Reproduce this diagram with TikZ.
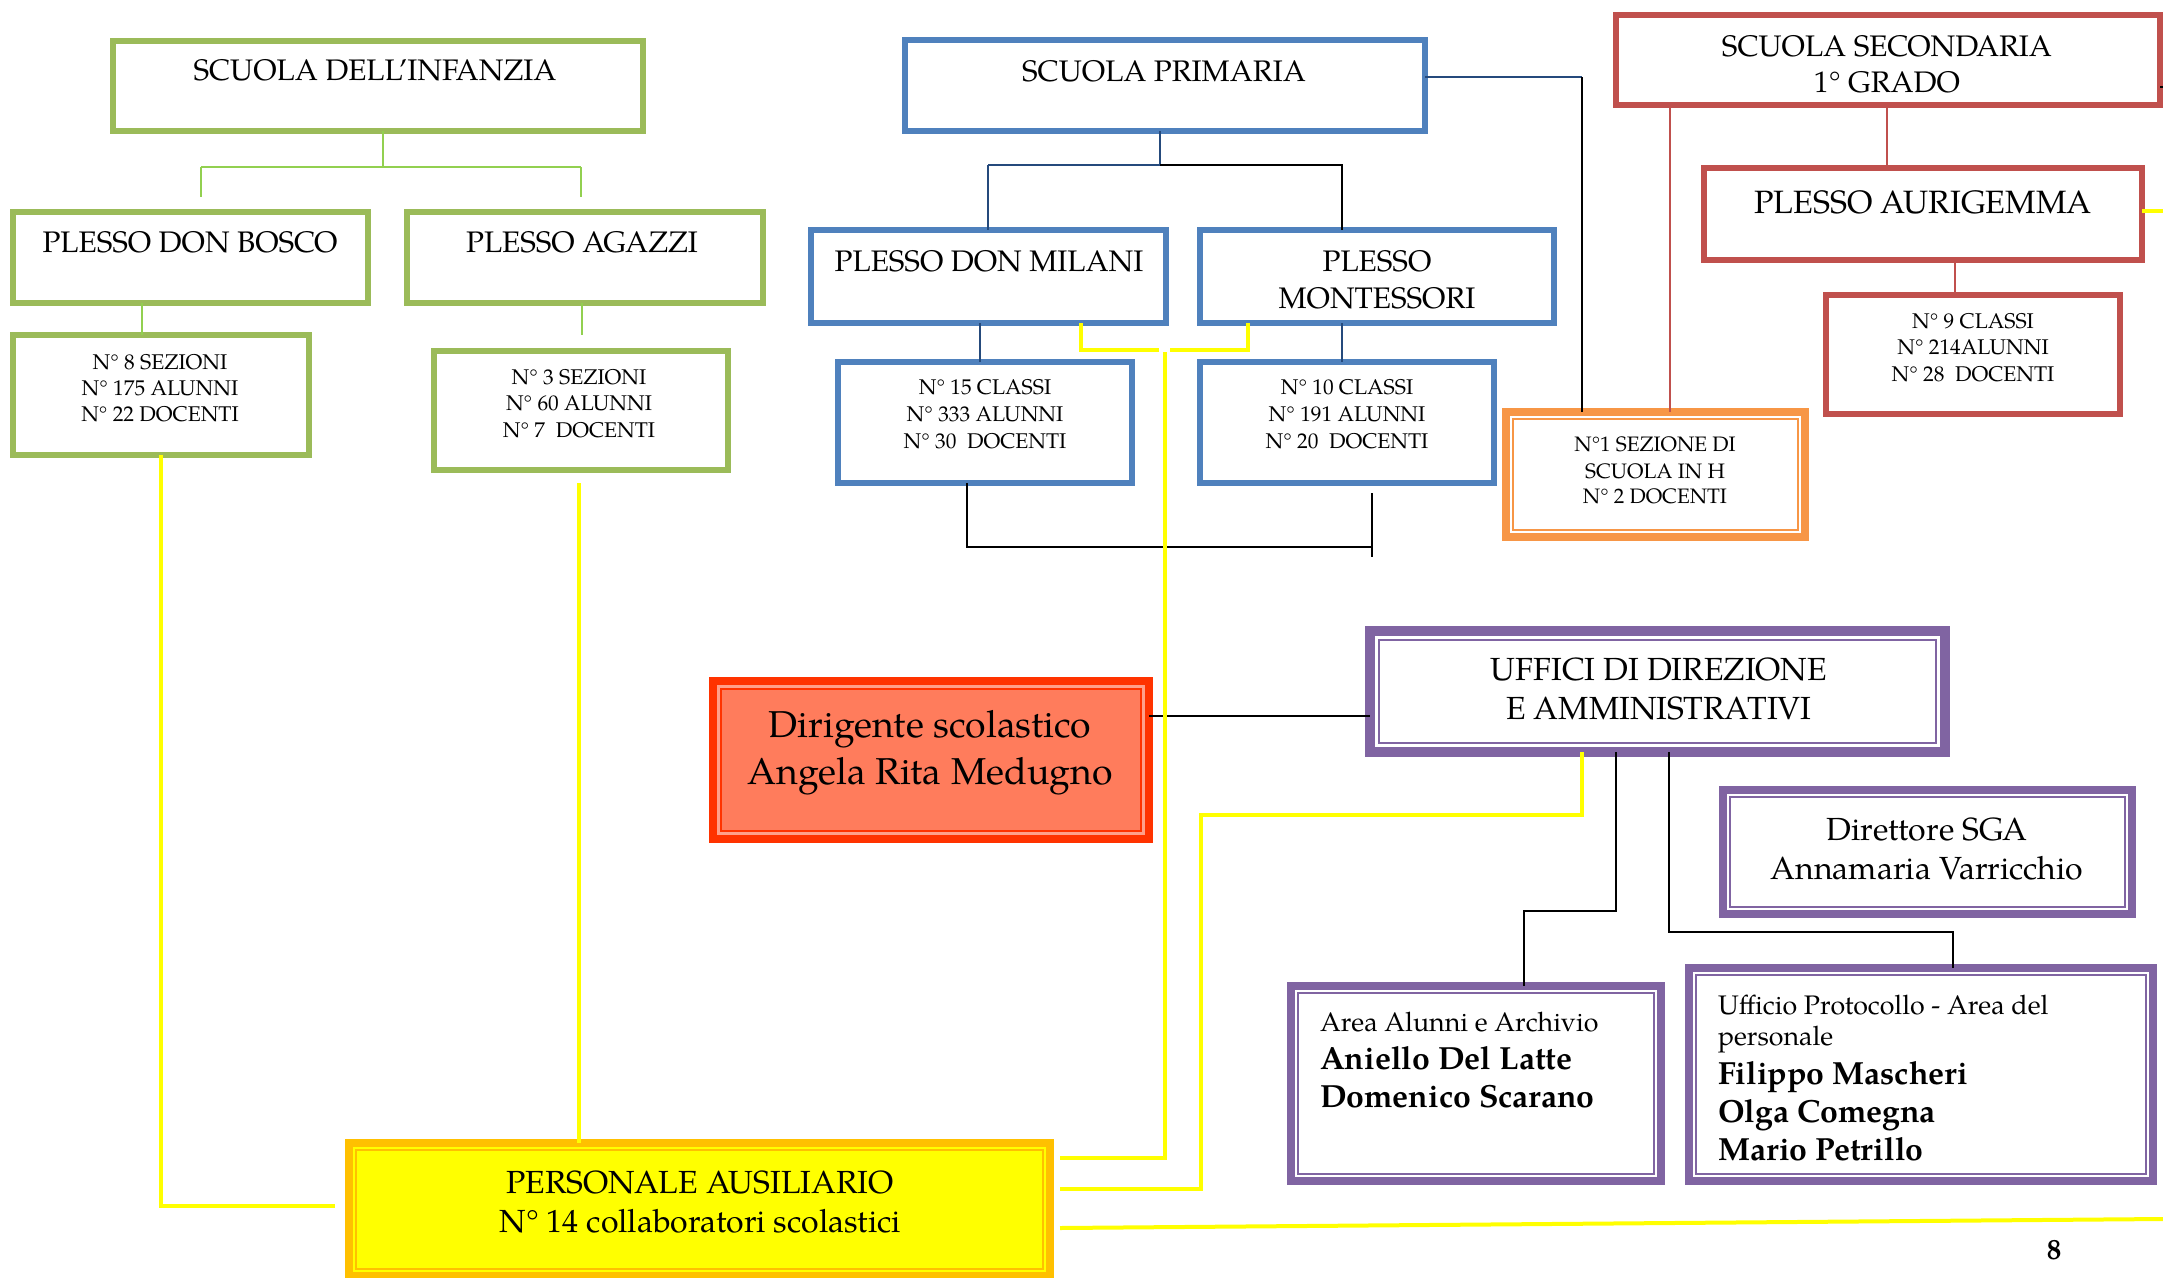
\documentclass[tikz,border=0pt]{standalone}
\usepackage{fontspec}
\setmainfont{TeX Gyre Pagella}
\usetikzlibrary{calc}
\definecolor{cgreen}{HTML}{9BBB59}
\definecolor{cgreenline}{HTML}{92D050}
\definecolor{cblue}{HTML}{4F81BD}
\definecolor{cbluedark}{HTML}{254A7C}
\definecolor{cred}{HTML}{C0504D}
\definecolor{corange}{HTML}{F79646}
\definecolor{cpurple}{HTML}{8064A2}
\definecolor{cdirred}{HTML}{FF3300}
\definecolor{csalmon}{HTML}{FF7C5C}
\definecolor{cpink}{HTML}{FFA08A}
\definecolor{cgold}{HTML}{FFC000}
\definecolor{cyellow}{HTML}{FFFF00}
\newcommand\innerrect[3]{\draw[#1] ($(#2.north west)+(#3,#3)$) rectangle ($(#2.south east)+(-#3,-#3)$);}
\tikzset{
  bx/.style={draw, rectangle, inner sep=0pt, outer sep=0pt, fill=white},
  gbox/.style={bx, draw=cgreen, line width=6pt},
  bbox/.style={bx, draw=cblue, line width=6pt},
  rbox/.style={bx, draw=cred, line width=6pt},
  obox/.style={bx, draw=corange, line width=8pt},
  pbox/.style={bx, draw=cpurple, line width=8pt},
  dbox/.style={bx, draw=cdirred, line width=8pt, fill=csalmon},
  ybox/.style={bx, draw=cgold, line width=8pt, fill=cyellow},
  txt/.style={inner sep=0pt, outer sep=0pt, anchor=base},
  ttl/.style={txt, font=\fontsize{29.7}{34}\selectfont},
  ttlb/.style={txt, font=\fontsize{32.3}{38}\selectfont},
  stat/.style={txt, font=\fontsize{21.3}{26}\selectfont},
  hstat/.style={txt, font=\fontsize{20.9}{26}\selectfont},
  big/.style={txt, font=\fontsize{37.4}{44}\selectfont},
  mid/.style={txt, font=\fontsize{32}{38}\selectfont},
  sml/.style={txt, anchor=base west, font=\fontsize{26.8}{32}\selectfont},
  bld/.style={txt, anchor=base west, font=\fontsize{32}{38}\selectfont\bfseries},
  gline/.style={draw=cgreenline, line width=2.5pt},
  bline/.style={draw=cbluedark, line width=2pt},
  kline/.style={draw=black, line width=2pt},
  rline/.style={draw=cred, line width=2pt},
  yline/.style={draw=cyellow, line width=4pt},
}
\begin{document}
\begin{tikzpicture}[x=1pt, y=-1pt]
\useasboundingbox (0,0) rectangle (2163,1277);
\fill[white] (0,0) rectangle (2163,1277);

% ---------- coordinates ----------
\coordinate (g1) at (383,167);
\coordinate (g2) at (201,167);
\coordinate (g3) at (581,167);
\coordinate (g4) at (201,197);
\coordinate (g5) at (581,197);
\coordinate (g6) at (582,335);
\coordinate (g7) at (142,320);
\coordinate (b1) at (1160,165);
\coordinate (b2) at (988,165);
\coordinate (b3) at (1342,165);
\coordinate (b4) at (980,362);
\coordinate (b5) at (1342,362);
\coordinate (k1) at (1582,77);
\coordinate (k2) at (967,547);
\coordinate (k3) at (1373,547);
\coordinate (k4) at (1372,493);
\coordinate (k5) at (1372,557);
\coordinate (k6) at (1616,911);
\coordinate (k7) at (1524,911);
\coordinate (k8) at (1669,932);
\coordinate (k9) at (1953,932);
\coordinate (k10) at (2163,87);
\coordinate (k11) at (1260,716);
\coordinate (r1) at (1887,140);
\coordinate (r2) at (1670,300);
\coordinate (r3) at (1955,280);
\coordinate (y1) at (161,1206);
\coordinate (y2) at (335,1206);
\coordinate (y3) at (579,483);
\coordinate (y4) at (1081,350);
\coordinate (y5) at (1159,350);
\coordinate (y6) at (1248,350);
\coordinate (y7) at (1170,350);
\coordinate (y8) at (1165,352);
\coordinate (y9) at (1165,1158);
\coordinate (y10) at (1060,1158);
\coordinate (y11) at (1582,815);
\coordinate (y12) at (1201,815);
\coordinate (y13) at (1201,1189);
\coordinate (y14) at (1060,1189);
\coordinate (y15) at (1060,1228);
\coordinate (y16) at (2163,1219);
\coordinate (y17) at (2163,211);

% ---------- boxes ----------
% green
\node[gbox, minimum width=530pt, minimum height=90pt] (inf) at (378,86) {};
\node[gbox, minimum width=355pt, minimum height=91pt] (db) at (190.5,257.5) {};
\node[gbox, minimum width=356pt, minimum height=91pt] (ag) at (585,257.5) {};
\node[gbox, minimum width=296pt, minimum height=120pt] (db8) at (161,395) {};
\node[gbox, minimum width=294pt, minimum height=119pt] (ag3) at (581,410.5) {};
% blue
\node[bbox, minimum width=520pt, minimum height=91pt] (prim) at (1165,85.5) {};
\node[bbox, minimum width=355pt, minimum height=93pt] (dm) at (988.5,276.5) {};
\node[bbox, minimum width=354pt, minimum height=93pt] (mont) at (1377,276.5) {};
\node[bbox, minimum width=294pt, minimum height=121pt] (c15) at (985,422.5) {};
\node[bbox, minimum width=294pt, minimum height=121pt] (c10) at (1347,422.5) {};
% red
\node[rbox, minimum width=544pt, minimum height=90pt] (sec) at (1888,60) {};
\node[rbox, minimum width=438pt, minimum height=92pt] (aur) at (1923,214) {};
\node[rbox, minimum width=294pt, minimum height=119pt] (c9) at (1973,354.5) {};
% orange
\node[obox, minimum width=299pt, minimum height=125pt] (hsez) at (1655.5,474.5) {};
\innerrect{draw=corange, line width=2pt}{hsez}{7}
% dirigente
\node[dbox, minimum width=436pt, minimum height=158pt] (dir) at (931,760) {};
\innerrect{draw=cpink, line width=3pt}{dir}{5.5}
\innerrect{draw=cdirred, line width=2pt}{dir}{8}
% purple
\node[pbox, line width=10pt, minimum width=575pt, minimum height=121pt] (uff) at (1657.5,691.5) {};
\innerrect{draw=cpurple, line width=2pt}{uff}{9}
\node[pbox, minimum width=409pt, minimum height=124pt] (dsga) at (1927.5,852) {};
\innerrect{draw=cpurple, line width=2pt}{dsga}{7}
\node[pbox, minimum width=370pt, minimum height=195pt] (area) at (1476,1083.5) {};
\innerrect{draw=cpurple, line width=2pt}{area}{7}
\node[pbox, minimum width=464pt, minimum height=213pt] (prot) at (1921,1074.5) {};
\innerrect{draw=cpurple, line width=2pt}{prot}{7}
% personale
\node[ybox, minimum width=701pt, minimum height=133pt] (pers) at (699.5,1209.5) {};
\innerrect{draw=cgold, line width=2pt}{pers}{7}

% ---------- connectors ----------
\draw[gline] (inf.south -| g1) -- (g1);
\draw[gline] (g2) -- (g3);
\draw[gline] (g2) -- (g4);
\draw[gline] (g3) -- (g5);
\draw[gline] (db.south -| g7) -- (db8.north -| g7);
\draw[gline] (ag.south -| g6) -- (g6);

\draw[bline] (prim.south -| b1) -- (b1);
\draw[bline] (b2) -- (b1);
\draw[bline] (b2) -- (dm.north -| b2);
\draw[kline] (b1) -- (b3) -- (mont.north -| b3);
\draw[bline] (dm.south -| b4) -- (b4);
\draw[bline] (mont.south -| b5) -- (b5);
\draw[bline] (prim.east |- k1) -- (k1);
\draw[kline] (k1) -- (hsez.north -| k1);
\draw[kline] (c15.south -| k2) -- (k2) -- (k3);
\draw[kline] (k4) -- (k5);

\draw[rline] (sec.south -| r1) -- (aur.north -| r1);
\draw[rline] (sec.south -| r2) -- (hsez.north -| r2);
\draw[rline] (aur.south -| r3) -- (c9.north -| r3);
\draw[kline] (sec.east |- k10) -- (k10);

\draw[kline] (dir.east |- k11) -- (uff.west |- k11);
\draw[kline] (uff.south -| k6) -- (k6) -- (k7) -- (area.north -| k7);
\draw[kline] (uff.south -| k8) -- (k8) -- (k9) -- (prot.north -| k9);

\draw[yline] (db8.south -| y1) -- (y1) -- (y2);
\draw[yline] (y3) -- (pers.north -| y3);
\draw[yline] (dm.south -| y4) -- (y4) -- (y5);
\draw[yline] (mont.south -| y6) -- (y6) -- (y7);
\draw[yline] (y8) -- (y9) -- (y10);
\draw[yline] (uff.south -| y11) -- (y11) -- (y12) -- (y13) -- (y14);
\draw[yline] (y15) -- (y16);
\draw[yline] (aur.east |- y17) -- (y17);

% ---------- texts ----------
\node[ttl] (t-inf) at (375,80) {SCUOLA DELL’INFANZIA};
\node[ttl] (t-db) at (190,252) {PLESSO DON BOSCO};
\node[ttl] (t-ag) at (582,252) {PLESSO AGAZZI};
\node[stat] (t-db8a) at (160,369) {N° 8 SEZIONI};
\node[stat] (t-db8b) at (160,395) {N° 175 ALUNNI};
\node[stat] (t-db8c) at (160,421) {N° 22 DOCENTI};
\node[stat] (t-ag3a) at (579,384) {N° 3 SEZIONI};
\node[stat] (t-ag3b) at (579,410) {N° 60 ALUNNI};
\node[stat] (t-ag3c) at (579,437) {N° 7\ \ DOCENTI};

\node[ttl] (t-prim) at (1164,81) {SCUOLA PRIMARIA};
\node[ttl] (t-dm) at (989,271) {PLESSO DON MILANI};
\node[ttl] (t-mont1) at (1377,271) {PLESSO};
\node[ttl] (t-mont2) at (1377,308) {MONTESSORI};
\node[stat] (t-c15a) at (985,394) {N° 15 CLASSI};
\node[stat] (t-c15b) at (985,421) {N° 333 ALUNNI};
\node[stat] (t-c15c) at (985,448) {N° 30\ \ DOCENTI};
\node[stat] (t-c10a) at (1347,394) {N° 10 CLASSI};
\node[stat] (t-c10b) at (1347,421) {N° 191 ALUNNI};
\node[stat] (t-c10c) at (1347,448) {N° 20\ \ DOCENTI};

\node[ttl] (t-sec1) at (1887,56) {SCUOLA SECONDARIA};
\node[ttl] (t-sec2) at (1887,92) {1° GRADO};
\node[ttlb] (t-aur) at (1923,213) {PLESSO AURIGEMMA};
\node[stat] (t-c9a) at (1973,328) {N° 9 CLASSI};
\node[stat] (t-c9b) at (1973,354) {N° 214ALUNNI};
\node[stat] (t-c9c) at (1973,381) {N° 28\ \ DOCENTI};
\node[hstat] (t-h1) at (1655,451) {N°1 SEZIONE DI};
\node[hstat] (t-h2) at (1655,478) {SCUOLA IN H};
\node[hstat] (t-h3) at (1655,503) {N° 2 DOCENTI};

\node[big] (t-dir1) at (930,737) {Dirigente scolastico};
\node[big] (t-dir2) at (930,784) {Angela Rita Medugno};
\node[mid] (t-uff1) at (1659,680) {UFFICI DI DIREZIONE};
\node[mid] (t-uff2) at (1659,719) {E AMMINISTRATIVI};
\node[mid] (t-dsga1) at (1927,840) {Direttore SGA};
\node[mid] (t-dsga2) at (1927,879) {Annamaria Varricchio};
\node[sml] (t-area1) at (1320,1031) {Area Alunni e Archivio};
\node[bld] (t-area2) at (1320,1069) {Aniello Del Latte};
\node[bld] (t-area3) at (1320,1107) {Domenico Scarano};
\node[sml] (t-prot1) at (1718,1014) {Ufficio Protocollo - Area del};
\node[sml] (t-prot2) at (1718,1045) {personale};
\node[bld] (t-prot3) at (1718,1084) {Filippo Mascheri};
\node[bld] (t-prot4) at (1718,1122) {Olga Comegna};
\node[bld] (t-prot5) at (1718,1160) {Mario Petrillo};
\node[mid] (t-pers1) at (700,1193) {PERSONALE AUSILIARIO};
\node[mid] (t-pers2) at (700,1232) {N° 14 collaboratori scolastici};
\node[txt, font=\fontsize{29}{34}\selectfont\bfseries] (t-page) at (2054,1259) {8};
\end{tikzpicture}
\end{document}
